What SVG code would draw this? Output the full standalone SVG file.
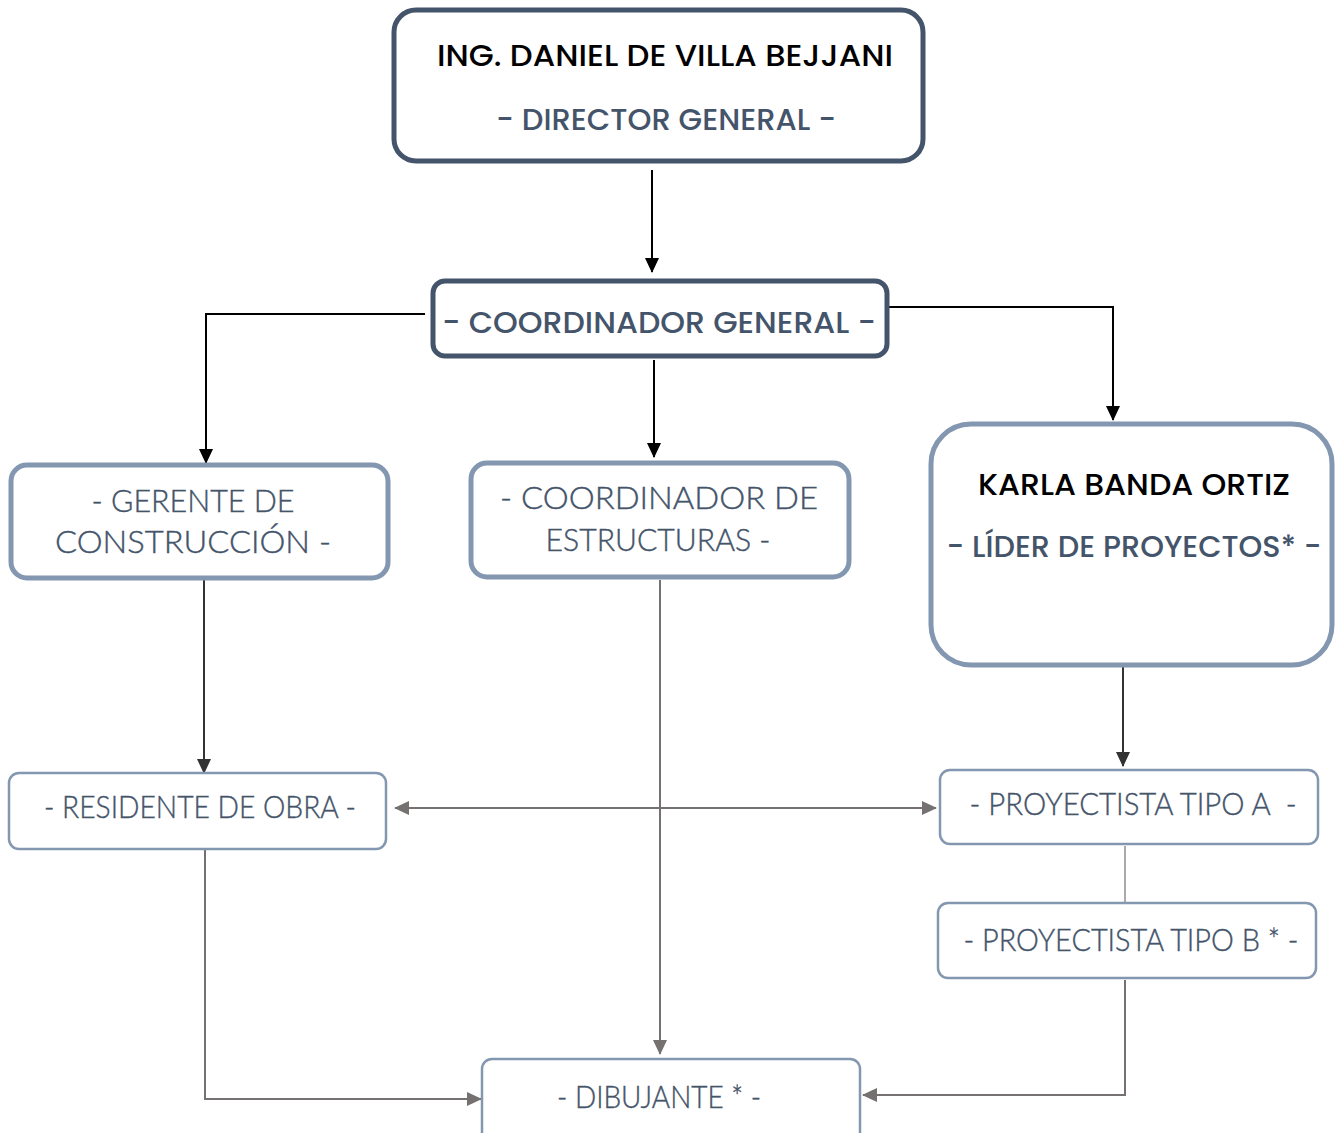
<svg xmlns="http://www.w3.org/2000/svg" width="1336" height="1133" viewBox="0 0 1336 1133">
<defs>
<style>
.dark{fill:#fff;stroke:#44546A;stroke-width:5}
.mid{fill:#fff;stroke:#8497B0;stroke-width:5}
.thin{fill:#fff;stroke:#8497B0;stroke-width:2.5}
.name{font-family:"Poppins","Noto Sans","Open Sans",sans-serif;font-weight:500;fill:#000;font-size:30px}
.role{font-family:"Poppins","Noto Sans","Open Sans",sans-serif;font-weight:500;fill:#44546A;font-size:30px}
.lt{font-family:"Lato","Noto Sans",sans-serif;font-weight:300;fill:#44546A;stroke:#44546A;stroke-width:0.4;font-size:31px;white-space:pre}
.cb{fill:none;stroke:#000;stroke-width:2}
.cd{fill:none;stroke:#333;stroke-width:2}
.cg{fill:none;stroke:#767171;stroke-width:2}
.cgt{fill:none;stroke:#767171;stroke-width:1.2}
</style>
<marker id="ab" markerWidth="16" markerHeight="16" refX="14" refY="8" orient="auto" markerUnits="userSpaceOnUse"><path d="M0,1 L15,8 L0,15 Z" fill="#000"/></marker>
<marker id="ad" markerWidth="16" markerHeight="16" refX="14" refY="8" orient="auto" markerUnits="userSpaceOnUse"><path d="M0,1 L15,8 L0,15 Z" fill="#333"/></marker>
<marker id="ag" markerWidth="16" markerHeight="16" refX="14" refY="8" orient="auto-start-reverse" markerUnits="userSpaceOnUse"><path d="M0,1 L15,8 L0,15 Z" fill="#767171"/></marker>
</defs>
<rect width="1336" height="1133" fill="#fff"/>
<g id="connectors">
<path class="cb" d="M652,170 V272" marker-end="url(#ab)"/>
<path class="cb" d="M425,314 H206 V463" marker-end="url(#ab)" stroke-width="1.5"/>
<path class="cb" d="M654,360 V457" marker-end="url(#ab)"/>
<path class="cb" d="M887,307 H1113 V420" marker-end="url(#ab)" stroke-width="1.5"/>
<path class="cd" d="M204,580 V773" marker-end="url(#ad)"/>
<path class="cd" d="M1123,667 V766" marker-end="url(#ad)"/>
<path class="cg" d="M395,808 H936" marker-start="url(#ag)" marker-end="url(#ag)"/>
<path class="cg" d="M660,580 V1054" marker-end="url(#ag)"/>
<path class="cgt" d="M1125,846 V903"/>
<path class="cg" d="M1125,980 V1095 H863" marker-end="url(#ag)" stroke-width="1.5"/>
<path class="cg" d="M205,850 V1099 H481" marker-end="url(#ag)" stroke-width="1.5"/>
</g>
<g id="director">
<rect class="dark" x="394" y="10" width="529" height="151" rx="22"/>
<text class="name" x="665" y="66" text-anchor="middle" textLength="456" lengthAdjust="spacingAndGlyphs">ING. DANIEL DE VILLA BEJJANI</text>
<text class="role" x="666" y="130" text-anchor="middle" textLength="340" lengthAdjust="spacingAndGlyphs">- DIRECTOR GENERAL -</text>
</g>
<g id="coordinador-general">
<rect class="dark" x="433" y="281" width="454" height="75" rx="12"/>
<text class="role" x="659" y="333" text-anchor="middle" textLength="434" lengthAdjust="spacingAndGlyphs">- COORDINADOR GENERAL -</text>
</g>
<g id="gerente">
<rect class="mid" x="11" y="465" width="377" height="113" rx="16"/>
<text class="lt" x="193" y="512" text-anchor="middle" textLength="203" lengthAdjust="spacingAndGlyphs">- GERENTE DE</text>
<text class="lt" x="193" y="553" text-anchor="middle" textLength="276" lengthAdjust="spacingAndGlyphs">CONSTRUCCIÓN -</text>
</g>
<g id="coordinador-estructuras">
<rect class="mid" x="471" y="463" width="378" height="114" rx="16"/>
<text class="lt" x="659" y="509" text-anchor="middle" textLength="318" lengthAdjust="spacingAndGlyphs">- COORDINADOR DE</text>
<text class="lt" x="658" y="551" text-anchor="middle" textLength="225" lengthAdjust="spacingAndGlyphs">ESTRUCTURAS -</text>
</g>
<g id="lider">
<rect class="mid" x="931" y="424" width="401" height="241" rx="40"/>
<text class="name" x="1134" y="495" text-anchor="middle" textLength="312" lengthAdjust="spacingAndGlyphs">KARLA BANDA ORTIZ</text>
<text class="role" x="1134" y="557" text-anchor="middle" textLength="375" lengthAdjust="spacingAndGlyphs">- LÍDER DE PROYECTOS* -</text>
</g>
<g id="residente">
<rect class="thin" x="9" y="773" width="377" height="76" rx="10"/>
<text class="lt" x="200" y="818" text-anchor="middle" textLength="312" lengthAdjust="spacingAndGlyphs">- RESIDENTE DE OBRA -</text>
</g>
<g id="proyectista-a">
<rect class="thin" x="940" y="770" width="378" height="74" rx="10"/>
<text class="lt" x="1133" y="815" text-anchor="middle" textLength="327" lengthAdjust="spacingAndGlyphs" xml:space="preserve">- PROYECTISTA TIPO A  -</text>
</g>
<g id="proyectista-b">
<rect class="thin" x="938" y="903" width="378" height="75" rx="10"/>
<text class="lt" x="1131" y="951" text-anchor="middle" textLength="335" lengthAdjust="spacingAndGlyphs">- PROYECTISTA TIPO B * -</text>
</g>
<g id="dibujante">
<rect class="thin" x="482" y="1059" width="378" height="90" rx="10"/>
<text class="lt" x="659" y="1108" text-anchor="middle" textLength="204" lengthAdjust="spacingAndGlyphs">- DIBUJANTE * -</text>
</g>
</svg>
